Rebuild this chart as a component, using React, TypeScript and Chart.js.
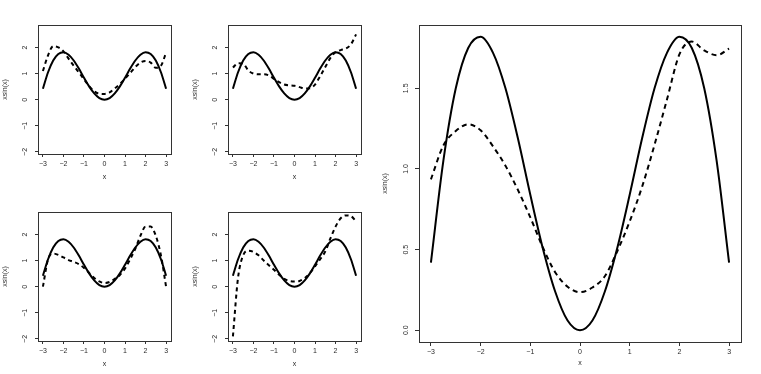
import React, { useEffect, useRef } from "react";
import { Chart, registerables } from "chart.js";

Chart.register(...registerables);

// ---- data ----
const xValues = [-3, -2.75, -2.5, -2.25, -2, -1.75, -1.5, -1.25, -1, -0.75, -0.5, -0.25, 0, 0.25, 0.5, 0.75, 1, 1.25, 1.5, 1.75, 2, 2.25, 2.5, 2.75, 3];
const trueCurve = [0.42, 1.05, 1.5, 1.75, 1.82, 1.72, 1.5, 1.19, 0.84, 0.51, 0.24, 0.06, 0, 0.06, 0.24, 0.51, 0.84, 1.19, 1.5, 1.72, 1.82, 1.75, 1.5, 1.05, 0.42];
const fitTopLeft = [1.1, 1.7, 2.05, 2.0, 1.85, 1.57, 1.3, 1.05, 0.78, 0.52, 0.32, 0.23, 0.22, 0.28, 0.43, 0.6, 0.8, 1.02, 1.25, 1.42, 1.48, 1.42, 1.22, 1.3, 1.8];
const fitTopRight = [1.23, 1.4, 1.38, 1.12, 1.0, 0.97, 0.97, 0.93, 0.8, 0.67, 0.58, 0.55, 0.53, 0.48, 0.43, 0.44, 0.58, 0.9, 1.25, 1.6, 1.82, 1.9, 1.96, 2.12, 2.5];
const fitBottomLeft = [0.0, 1.05, 1.27, 1.22, 1.12, 1.02, 0.95, 0.86, 0.72, 0.53, 0.33, 0.2, 0.14, 0.18, 0.3, 0.45, 0.7, 1.05, 1.45, 1.95, 2.3, 2.3, 1.95, 1.2, 0.0];
const fitBottomRight = [-1.9, 0.35, 1.2, 1.38, 1.33, 1.2, 1.0, 0.82, 0.65, 0.46, 0.3, 0.22, 0.2, 0.22, 0.33, 0.52, 0.78, 1.05, 1.35, 1.85, 2.3, 2.62, 2.73, 2.7, 2.5];
const fitLarge = [0.936, 1.145, 1.235, 1.277, 1.24, 1.14, 1.02, 0.87, 0.7, 0.515, 0.36, 0.27, 0.236, 0.265, 0.335, 0.49, 0.675, 0.89, 1.15, 1.43, 1.71, 1.79, 1.735, 1.705, 1.746];

const xTicks = [-3, -2, -1, 0, 1, 2, 3];
const smallYTicks = [-2, -1, 0, 1, 2];
const largeYTicks = [0, 0.5, 1, 1.5];
const xLabel = "x";
const yLabel = "xsin(x)";

// ---- styling / layout ----
const FONT = { family: "'Liberation Sans', Arial, Helvetica, sans-serif", size: 7 };
const TEXT = "#2a2a2a";
const INK = "#333";

const SMALL = {
  boxLeft: 38, padTop: 25, padRight: 19, xAxisH: 33, tl: 3, xPad: 2.8, yPad: 6,
  xTitlePad: 5.5, yTitlePad: 0.5, yMin: -2.08, yMax: 2.86, dash: [4, 3.5], yTicks: smallYTicks, yDigits: 0,
};
const LARGE = {
  boxLeft: 39, padTop: 25, padRight: 20, xAxisH: 32, tl: 4, xPad: 1.8, yPad: 4.1,
  xTitlePad: 6.5, yTitlePad: 0.5, yMin: -0.0728, yMax: 1.8925, dash: [5, 4], yTicks: largeYTicks, yDigits: 1,
};

const fmt = (v: number, d: number) => (v < 0 ? "\u2212" : "") + Math.abs(v).toFixed(d);

const boxPlugin = {
  id: "rbox",
  beforeDatasetsDraw(chart: any) {
    const { ctx, chartArea } = chart;
    const l = Math.floor(chartArea.left) + 0.5;
    const t = Math.floor(chartArea.top) + 0.5;
    const r = Math.floor(chartArea.right) + 0.5;
    const b = Math.floor(chartArea.bottom) + 0.5;
    ctx.save();
    ctx.strokeStyle = INK;
    ctx.lineWidth = 1;
    ctx.strokeRect(l, t, r - l, b - t);
    ctx.restore();
  },
};

function Panel(props: { left: number; top: number; width: number; height: number; fit: number[]; large: boolean }) {
  const { left, top, width, height, fit, large } = props;
  const ref = useRef<HTMLCanvasElement>(null);
  useEffect(() => {
    const canvas = ref.current;
    if (!canvas) return;
    const L = large ? LARGE : SMALL;
    const chart = new Chart(canvas, {
      type: "line",
      data: {
        datasets: [
          {
            data: xValues.map((x, i) => ({ x, y: trueCurve[i] })),
            borderColor: "#000",
            borderWidth: 2,
            pointRadius: 0,
            cubicInterpolationMode: "monotone",
            fill: false,
          },
          {
            data: xValues.map((x, i) => ({ x, y: fit[i] })),
            borderColor: "#000",
            borderWidth: 2,
            borderDash: L.dash,
            pointRadius: 0,
            cubicInterpolationMode: "monotone",
            fill: false,
          },
        ],
      },
      options: {
        responsive: false,
        animation: false,
        events: [],
        layout: { padding: { left: 0, top: L.padTop, right: L.padRight, bottom: 0 } },
        plugins: { legend: { display: false }, tooltip: { enabled: false }, title: { display: false } },
        scales: {
          x: {
            type: "linear",
            position: "bottom",
            bounds: "data",
            min: -3.24,
            max: 3.24,
            afterBuildTicks: (s: any) => {
              s.ticks = xTicks.map((v) => ({ value: v }));
            },
            afterFit: (s: any) => {
              s.height = L.xAxisH;
            },
            grid: { display: true, drawOnChartArea: false, drawTicks: true, tickLength: L.tl, color: INK, lineWidth: 1 },
            border: { display: false },
            ticks: {
              autoSkip: false,
              maxRotation: 0,
              padding: L.xPad,
              font: FONT,
              color: TEXT,
              callback: (v: any) => fmt(Number(v), 0),
            },
            title: { display: true, text: xLabel, font: FONT, color: TEXT, padding: { top: 0, bottom: L.xTitlePad } },
          },
          y: {
            type: "linear",
            position: "left",
            bounds: "data",
            min: L.yMin,
            max: L.yMax,
            afterBuildTicks: (s: any) => {
              s.ticks = L.yTicks.map((v) => ({ value: v }));
            },
            afterFit: (s: any) => {
              s.width = L.boxLeft;
            },
            grid: { display: true, drawOnChartArea: false, drawTicks: true, tickLength: L.tl, color: INK, lineWidth: 1 },
            border: { display: false },
            ticks: {
              autoSkip: false,
              minRotation: 90,
              maxRotation: 90,
              crossAlign: "center",
              padding: L.yPad,
              font: FONT,
              color: TEXT,
              callback: (v: any) => fmt(Number(v), L.yDigits),
            },
            title: { display: true, text: yLabel, font: FONT, color: TEXT, padding: { top: L.yTitlePad, bottom: 0 } },
          },
        },
      } as any,
      plugins: [boxPlugin],
    } as any);
    return () => chart.destroy();
  }, [fit, large]);
  return (
    <div style={{ position: "absolute", left, top, width, height }}>
      <canvas ref={ref} width={width} height={height} style={{ display: "block", width, height }} />
    </div>
  );
}

export default function App() {
  return (
    <div style={{ position: "absolute", left: 0, top: 0, width: 761, height: 374, background: "#fff", overflow: "hidden" }}>
      <Panel left={0} top={0} width={190} height={187} fit={fitTopLeft} large={false} />
      <Panel left={190} top={0} width={190} height={187} fit={fitTopRight} large={false} />
      <Panel left={0} top={187} width={190} height={187} fit={fitBottomLeft} large={false} />
      <Panel left={190} top={187} width={190} height={187} fit={fitBottomRight} large={false} />
      <Panel left={380} top={0} width={381} height={374} fit={fitLarge} large={true} />
    </div>
  );
}
